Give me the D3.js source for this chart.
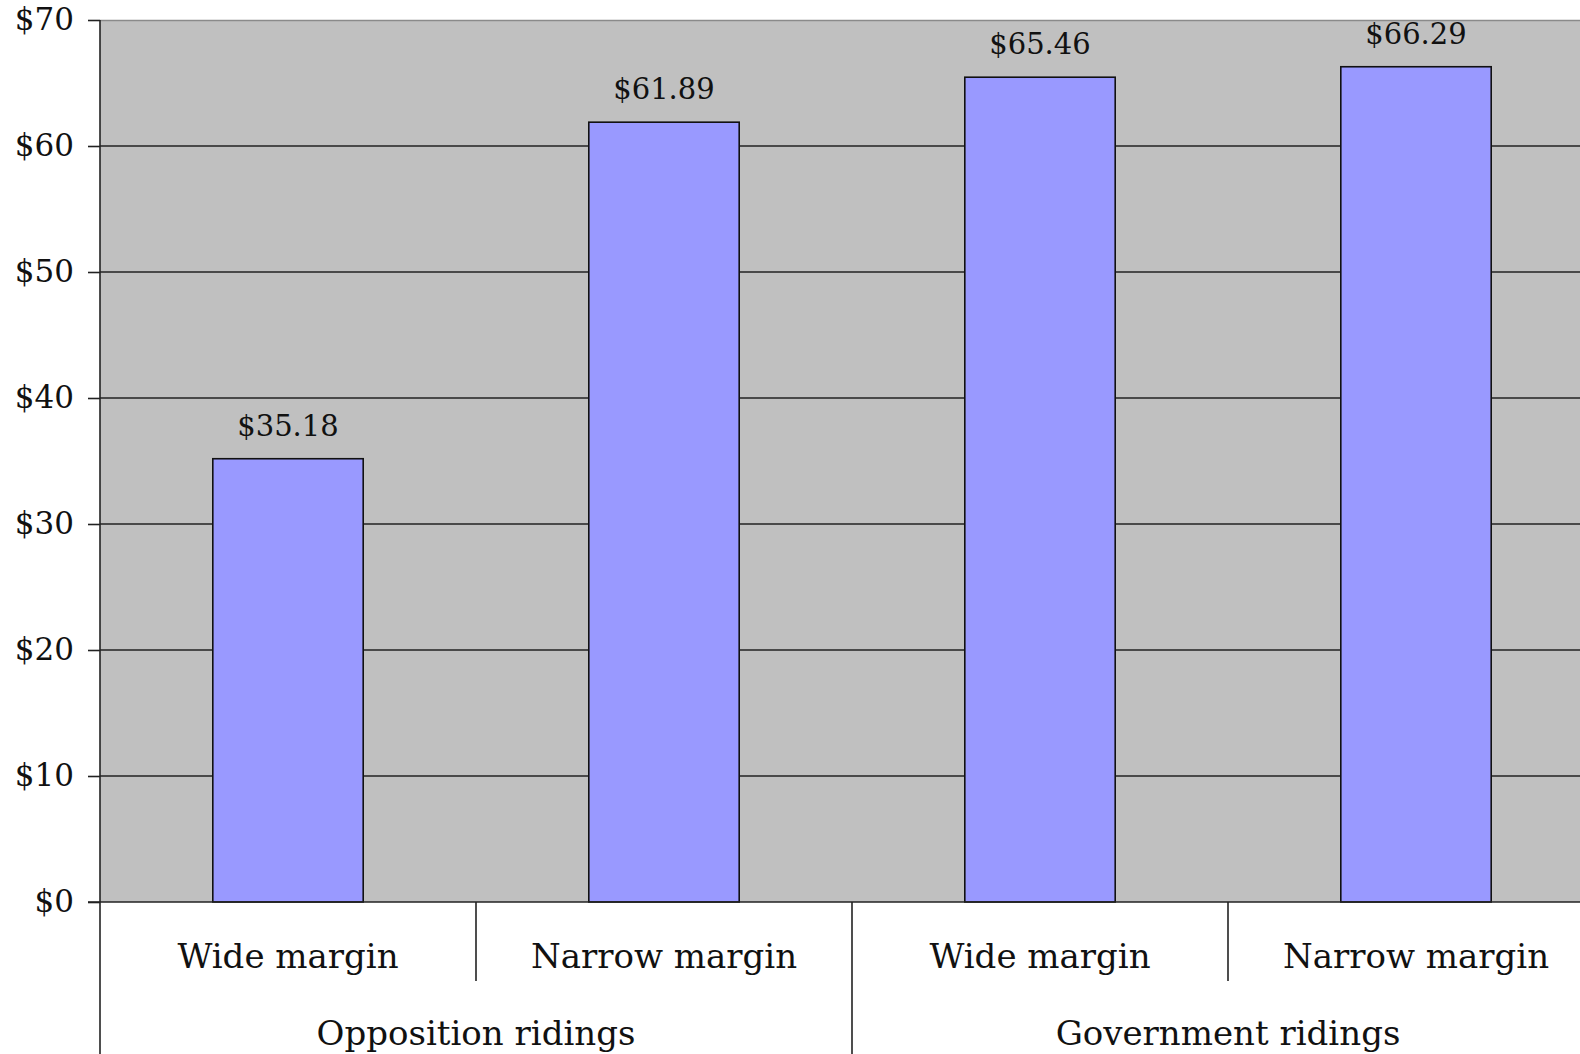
<!DOCTYPE html>
<html><head><meta charset="utf-8">
<script src="https://cdn.jsdelivr.net/npm/d3@7"></script>
<style>
html,body{margin:0;padding:0;background:#fff;overflow:hidden}
text{font-family:"DejaVu Serif",Georgia,serif;fill:#111}
</style></head>
<body><svg id="c" width="1580" height="1054"></svg>
<script>
const groups = ["Opposition ridings", "Government ridings"];
const subcats = ["Wide margin", "Narrow margin"];
const values = [35.18, 61.89, 65.46, 66.29];
const yTicks = [0, 10, 20, 30, 40, 50, 60, 70];

const rows = [];
groups.forEach((g, gi) => subcats.forEach((s, si) => rows.push({g, s, key: g + "|" + s, v: values[gi * subcats.length + si]})));

const W = 1580, H = 1054;
const pL = 100, pT = 20, pB = 902, pR = 1604;
const svg = d3.select("#c");

const x = d3.scaleBand().domain(rows.map(d => d.key)).range([pL, pR]).paddingInner(0.6).paddingOuter(0.3);
const y = d3.scaleLinear().domain([0, 70]).range([pB, pT]);
const step = x.step(), off = (step - x.bandwidth()) / 2;

svg.append("rect").attr("x", pL).attr("y", pT).attr("width", pR - pL).attr("height", pB - pT).attr("fill", "#c0c0c0");
svg.append("line").attr("x1", pL).attr("x2", pR).attr("y1", pT + 0.5).attr("y2", pT + 0.5).attr("stroke", "#8a8a8a").attr("stroke-width", 1.5);

// grid
svg.append("g").selectAll("line").data(yTicks.filter(t => t > 0 && t < 70)).join("line")
  .attr("x1", pL).attr("x2", pR).attr("y1", d => y(d)).attr("y2", d => y(d))
  .attr("stroke", "#222").attr("stroke-width", 1.6);

// bars
svg.append("g").selectAll("rect").data(rows).join("rect")
  .attr("x", d => x(d.key)).attr("width", x.bandwidth())
  .attr("y", d => y(d.v)).attr("height", d => y(0) - y(d.v))
  .attr("fill", "#9999ff").attr("stroke", "#111").attr("stroke-width", 1.6);

// value labels
svg.append("g").selectAll("text").data(rows).join("text")
  .attr("x", d => x(d.key) + x.bandwidth() / 2).attr("y", d => y(d.v) - 23)
  .attr("text-anchor", "middle").attr("font-size", 29)
  .text(d => "$" + d.v.toFixed(2));

// y axis
const ya = svg.append("g").attr("transform", `translate(${pL},0)`)
  .call(d3.axisLeft(y).tickValues(yTicks).tickSize(12).tickPadding(14).tickFormat(d => "$" + d));
ya.select(".domain").remove();
ya.selectAll(".tick line").attr("stroke", "#222").attr("stroke-width", 1.6);
ya.selectAll(".tick text").attr("font-size", 31).attr("font-family", '"DejaVu Serif",Georgia,serif').attr("fill", "#111").attr("dy", "0.3em");

svg.append("line").attr("x1", pL).attr("x2", pL).attr("y1", pT).attr("y2", H).attr("stroke", "#222").attr("stroke-width", 1.6);
svg.append("line").attr("x1", pL - 12).attr("x2", pR).attr("y1", pB).attr("y2", pB).attr("stroke", "#222").attr("stroke-width", 1.6);

// category separators
const bounds = rows.map((d, i) => ({i, xb: x(d.key) - off}));
svg.append("g").selectAll("line").data(bounds.filter(b => b.i > 0)).join("line")
  .attr("x1", b => b.xb).attr("x2", b => b.xb).attr("y1", pB)
  .attr("y2", b => b.i % subcats.length === 0 ? H : 981)
  .attr("stroke", "#222").attr("stroke-width", 1.6);

// sub-category labels
svg.append("g").selectAll("text").data(rows).join("text")
  .attr("x", d => x(d.key) + x.bandwidth() / 2).attr("y", 968)
  .attr("text-anchor", "middle").attr("font-size", 34).text(d => d.s);

// group labels
svg.append("g").selectAll("text").data(groups).join("text")
  .attr("x", (g, gi) => {
    const a = x(rows[gi * subcats.length].key) - off;
    const b = x(rows[gi * subcats.length + subcats.length - 1].key) + x.bandwidth() + off;
    return (a + b) / 2;
  })
  .attr("y", 1045).attr("text-anchor", "middle").attr("font-size", 34).text(g => g);
</script></body></html>
